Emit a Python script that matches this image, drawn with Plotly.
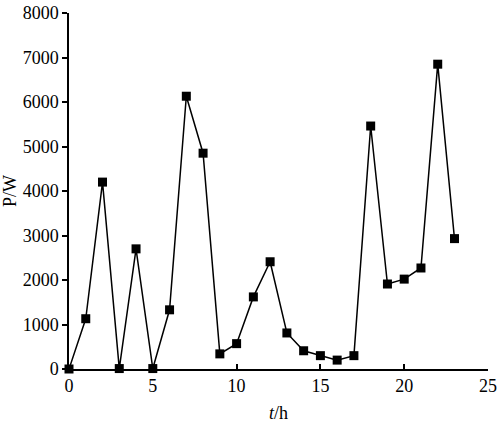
import plotly.graph_objects as go

hours = list(range(24))
power = [0, 1130, 4200, 10, 2700, 10, 1330, 6130, 4850, 340, 570, 1620,
         2410, 810, 410, 300, 200, 300, 5460, 1910, 2020, 2270, 6850, 2930]

x_ticks = [0, 5, 10, 15, 20, 25]
y_ticks = [0, 1000, 2000, 3000, 4000, 5000, 6000, 7000, 8000]

serif = "Liberation Serif"
txt = dict(family=serif, size=18, color="black")

fig = go.Figure(go.Scatter(
    x=hours, y=power,
    mode="lines+markers",
    line=dict(color="black", width=1.5),
    marker=dict(symbol="square", size=9, color="black"),
    cliponaxis=False,
))

fig.update_layout(
    width=498, height=431,
    margin=dict(l=69, r=10, t=13, b=62),
    paper_bgcolor="white", plot_bgcolor="white",
    font=txt,
    showlegend=False,
)
fig.update_xaxes(
    range=[0, 25], tickvals=x_ticks, ticks="inside", ticklen=5,
    tickwidth=1.5, tickcolor="black", showline=True, linecolor="black",
    linewidth=1.5, showgrid=False, zeroline=False, automargin=False,
    tickfont=txt,
    title=dict(text="<i>t</i>/h", standoff=11, font=txt),
)
fig.update_yaxes(
    range=[0, 8000], tickvals=y_ticks, ticks="outside", ticklen=5,
    tickwidth=1.5, tickcolor="black", showline=True, linecolor="black",
    linewidth=1.5, showgrid=False, zeroline=False, automargin=False,
    tickfont=txt,
    title=dict(text="P/W", standoff=5, font=txt),
)

# browser default body margin would shift the figure by 8px
fig.write_html("out.html", config={"displayModeBar": False},
               post_script="document.body.style.margin='0px';")
